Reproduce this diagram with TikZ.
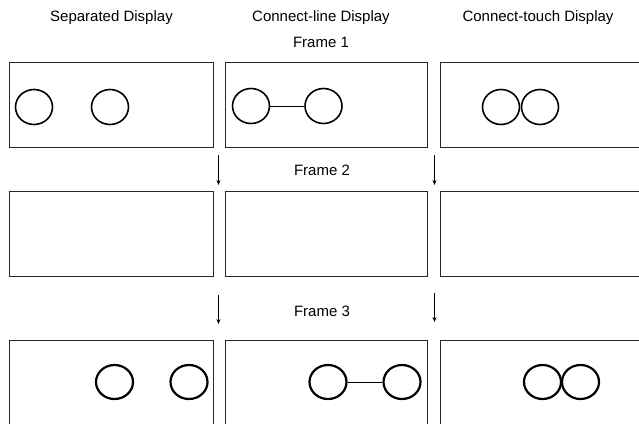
\documentclass[tikz,border=0pt]{standalone}
\usepackage{fontspec}
\setmainfont{Liberation Sans}
\usetikzlibrary{shapes.geometric,arrows.meta}
\tikzset{
  frame/.style={draw=black!85, line width=0.9pt, rectangle, inner sep=0pt, anchor=north west},
  disc/.style={draw=black, line width=1.6pt, ellipse, inner sep=0pt, minimum width=37pt, minimum height=35pt},
  bigdisc/.style={draw=black, line width=2.2pt, ellipse, inner sep=0pt, minimum width=37pt, minimum height=34pt},
  link/.style={draw=black, line width=0.9pt},
  flow/.style={draw=black, line width=1pt, -{Stealth[length=5pt,width=4pt]}},
  lbl/.style={font=\fontsize{15pt}{17pt}\selectfont, inner sep=0pt}
}
\begin{document}
\begin{tikzpicture}[x=1pt,y=-1pt]
\useasboundingbox (0,0) rectangle (639,423);
\clip (0,0) rectangle (639,423);
% titles
\node[lbl] (t1) at (111.5,18) {Separated Display};
\node[lbl] (t2) at (321,18) {Connect-line Display};
\node[lbl] (t3) at (538,18) {Connect-touch Display};
\node[lbl] (f1) at (321,42) {Frame 1};
\node[lbl] (f2) at (322,170) {Frame 2};
\node[lbl] (f3) at (322,311) {Frame 3};
% row 1
\node[frame, minimum width=204pt, minimum height=85pt] (a1) at (9,62) {};
\node[frame, minimum width=202pt, minimum height=85pt] (b1) at (225,62) {};
\node[frame, minimum width=210pt, minimum height=85pt] (c1) at (440,62) {};
% row 2
\node[frame, minimum width=204pt, minimum height=85pt] (a2) at (9,191) {};
\node[frame, minimum width=202pt, minimum height=85pt] (b2) at (225,191) {};
\node[frame, minimum width=210pt, minimum height=85pt] (c2) at (440,191) {};
% row 3
\node[frame, minimum width=204pt, minimum height=95pt] (a3) at (9,340) {};
\node[frame, minimum width=202pt, minimum height=95pt] (b3) at (225,340) {};
\node[frame, minimum width=210pt, minimum height=95pt] (c3) at (440,340) {};
% circles row 1
\node[disc] (s11) at (34,107) {};
\node[disc] (s12) at (110,107) {};
\node[disc] (l11) at (251,106) {};
\node[disc] (l12) at (323.5,106) {};
\node[disc] (k11) at (501,107) {};
\node[disc] (k12) at (540,107) {};
\draw[link] (l11) -- (l12);
% circles row 3
\node[bigdisc] (s31) at (114.5,382) {};
\node[bigdisc] (s32) at (189,382) {};
\node[bigdisc] (l31) at (328,382) {};
\node[bigdisc] (l32) at (402,382) {};
\node[bigdisc] (k31) at (542.5,382) {};
\node[bigdisc] (k32) at (580.5,382) {};
\draw[link] (l31) -- (l32);
% arrows
\coordinate (p1s) at (218.5,155);
\coordinate (p1e) at (218.5,185);
\coordinate (q1s) at (434.5,155);
\coordinate (q1e) at (434.5,185);
\coordinate (p2s) at (218.5,295);
\coordinate (p2e) at (218.5,324);
\coordinate (q2s) at (434.5,293);
\coordinate (q2e) at (434.5,322);
\draw[flow] (p1s) -- (p1e);
\draw[flow] (q1s) -- (q1e);
\draw[flow] (p2s) -- (p2e);
\draw[flow] (q2s) -- (q2e);
\end{tikzpicture}
\end{document}
